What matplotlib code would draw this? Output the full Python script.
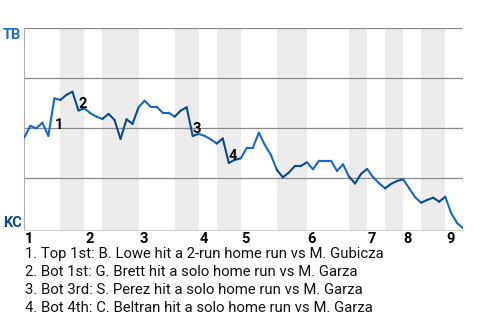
import matplotlib
matplotlib.use("Agg")
import matplotlib.pyplot as plt
import numpy as np

# TB win probability (%) after each plate appearance
tb_wp = [45.5, 51.2, 50.0, 52.8, 46.2, 65.0, 64.2, 66.7, 68.3, 58.9,
         60.0, 57.5, 55.8, 54.7, 57.2, 54.2, 44.7, 54.5, 52.2, 60.5,
         63.8, 60.8, 60.8, 57.8, 57.8, 55.8, 58.8, 60.5, 46.2, 47.2,
         46.2, 44.5, 42.4, 44.9, 32.7, 34.2, 35.0, 40.3, 40.3, 47.8,
         41.7, 36.7, 29.2, 25.5, 27.9, 31.2, 31.2, 33.0, 29.5, 33.8,
         33.8, 33.8, 28.7, 32.0, 25.8, 22.4, 27.2, 29.7, 25.5, 22.5,
         20.0, 22.2, 23.7, 24.5, 20.0, 15.5, 12.8, 14.2, 15.3, 13.3,
         15.8, 7.5, 2.5, 0.0]

innings = ["1", "2", "3", "4", "5", "6", "7", "8", "9"]
inning_start = [0, 10, 19, 29, 36, 47, 57, 63, 70]
bottom_start = [6, 13, 25, 32, 42, 54, 60, 66]
bottom_end = [10, 19, 29, 36, 47, 57, 63, 70]

hr_idx = [5, 9, 28, 34]
hr_text = ["1. Top 1st: B. Lowe hit a 2-run home run vs M. Gubicza",
           "2. Bot 1st: G. Brett hit a solo home run vs M. Garza",
           "3. Bot 3rd: S. Perez hit a solo home run vs M. Garza",
           "4. Bot 4th: C. Beltran hit a solo home run vs M. Garza"]

TOP = "#1766d6"
BOT = "#0a4a8f"
plt.rcParams["font.family"] = ["Roboto", "DejaVu Sans"]

fig = plt.figure(figsize=(4.8, 3.2), dpi=100)
ax = fig.add_axes([24.3 / 480, 1 - 230 / 320, 439 / 480, (230 - 28.3) / 320])

y = np.array(tb_wp) / 100
n = len(y)
ax.set_xlim(0, n - 1)
ax.set_ylim(-0.0085, 1.0)

for a, b in zip(bottom_start, bottom_end):
    ax.axvspan(a, b, color="#ececec", lw=0, zorder=0)
for g in [0.25, 0.5, 0.75, 1.0]:
    ax.axhline(g, color="#8a8a8a", lw=0.9, zorder=1)

for i in range(n - 1):
    dark = any(a <= i < b for a, b in zip(bottom_start, bottom_end))
    ax.plot([i, i + 1], [y[i], y[i + 1]], color=BOT if dark else TOP,
            lw=1.5, solid_capstyle="round", zorder=3)

# home run markers
for k, i in enumerate(hr_idx):
    if y[i] > y[i - 1]:
        ax.annotate(str(k + 1), (i, (y[i] + y[i - 1]) / 2), xytext=(0, -1),
                    textcoords="offset points", ha="left", va="top",
                    fontsize=10.5, fontweight="bold", zorder=4)
    else:
        ax.annotate(str(k + 1), (i, y[i]), xytext=(0, 0),
                    textcoords="offset points", ha="left", va="bottom",
                    fontsize=10.5, fontweight="bold", zorder=4)

for s in ["top", "right"]:
    ax.spines[s].set_visible(False)
ax.spines["left"].set_color("#b0b0b0")
ax.spines["bottom"].set_color("#d0d0d0")
ax.set_xticks([]); ax.set_yticks([])

for lab, s in zip(innings, inning_start):
    ax.annotate(lab, (s, 0), xycoords=("data", "axes fraction"),
                xytext=(0.5, -1.2), textcoords="offset points",
                ha="left", va="top", fontsize=10.5, fontweight="bold")

fig.text(3 / 480, 1 - 38.7 / 320, "TB", color="#1a6ddb", fontsize=10.5,
         fontweight="bold", va="baseline", ha="left")
fig.text(3 / 480, 1 - 227.3 / 320, "KC", color="#0d4a8a", fontsize=10.5,
         fontweight="bold", va="baseline", ha="left")

for k, t in enumerate(hr_text):
    fig.text(25 / 480, 1 - (257.7 + 18 * k) / 320, t, fontsize=10.7,
             va="baseline", ha="left", color="#111111")

fig.savefig("out.png", dpi=100)
